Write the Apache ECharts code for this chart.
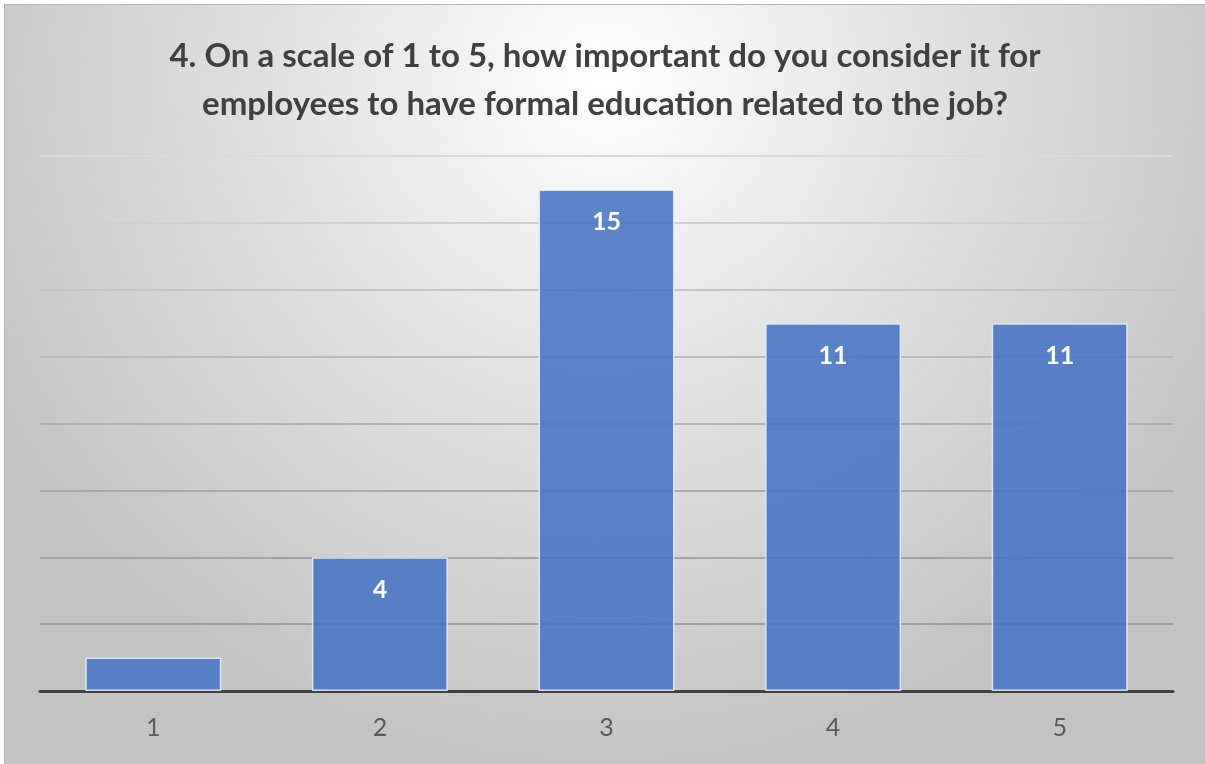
<!DOCTYPE html>
<html>
<head>
<meta charset="utf-8">
<script src="https://cdn.jsdelivr.net/npm/echarts@6/dist/echarts.min.js"></script>
<style>
html,body{margin:0;padding:0;background:#ffffff;width:1205px;height:764px;overflow:hidden;}
#chart{position:absolute;left:4px;top:4px;width:1201px;height:760px;border-top:1px solid #b4b4b4;border-left:1px solid #b4b4b4;box-sizing:border-box;}
</style>
</head>
<body>
<div id="chart"></div>
<script>
const titleText = '4. On a scale of 1 to 5, how important do you consider it for\nemployees to have formal education related to the job?';
const categories = ['1', '2', '3', '4', '5'];
const values = [1, 4, 15, 11, 11];
const showLabel = [false, true, true, true, true];
const yMax = 16;
const yInterval = 2;

const chart = echarts.init(document.getElementById('chart'), null, {renderer: 'canvas'});
const gridColors = ['#9a9a9a', '#9e9e9e', '#a3a3a3', '#a9a9a9', '#b0b0b0', '#b9b9b9', '#c4c4c4', '#cfcfcf', '#dadada'];

chart.setOption({
  backgroundColor: new echarts.graphic.RadialGradient(0.5, 0.1, 0.9, [
    {offset: 0, color: '#ffffff'},
    {offset: 0.5, color: '#e0e0e0'},
    {offset: 1, color: '#c4c4c4'}
  ]),
  animation: false,
  title: {
    text: titleText,
    left: 'center',
    top: 22,
    textStyle: {
      fontFamily: 'Lato, "Open Sans", sans-serif',
      fontWeight: 'bold',
      fontSize: 33,
      lineHeight: 48,
      color: '#404040'
    }
  },
  grid: {left: 35, right: 32, top: 151, bottom: 73, containLabel: false},
  xAxis: {
    type: 'category',
    data: categories,
    axisLine: {show: true, lineStyle: {color: '#404040', width: 3}},
    axisTick: {show: false},
    axisLabel: {
      fontFamily: 'Lato, "Open Sans", sans-serif',
      fontSize: 25,
      color: '#595959',
      margin: 24
    }
  },
  yAxis: {
    type: 'value',
    min: 0,
    max: yMax,
    interval: yInterval,
    axisLabel: {show: false},
    axisLine: {show: false},
    axisTick: {show: false},
    splitLine: {show: true, lineStyle: {color: gridColors, width: 2}}
  },
  series: [{
    type: 'bar',
    data: values.map((v, i) => ({
      value: v,
      label: {show: showLabel[i]}
    })),
    barCategoryGap: '40%',
    itemStyle: {
      color: 'rgba(68,114,196,0.86)',
      borderColor: 'rgba(230,236,248,0.9)',
      borderWidth: 1.5
    },
    label: {
      position: 'insideTop',
      distance: 20,
      color: '#ffffff',
      fontFamily: 'Lato, "Open Sans", sans-serif',
      fontWeight: 'bold',
      fontSize: 25
    }
  }]
});
</script>
</body>
</html>
